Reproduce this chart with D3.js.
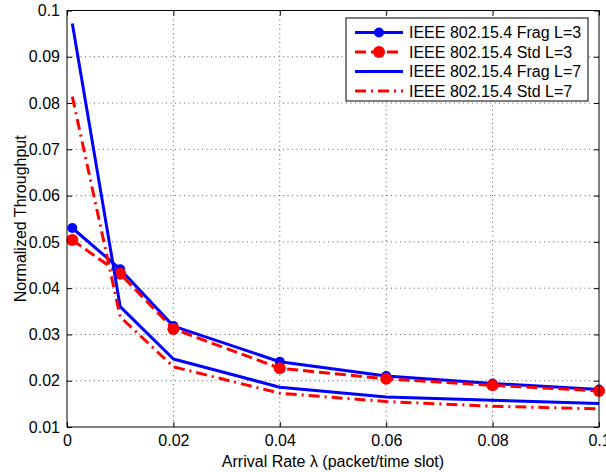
<!DOCTYPE html>
<html>
<head>
<meta charset="utf-8">
<script src="https://cdn.jsdelivr.net/npm/d3@7"></script>
<style>
  html, body { margin: 0; padding: 0; background: #fff; }
  svg { display: block; font-family: "Liberation Sans", Arial, sans-serif; }
</style>
</head>
<body>
<svg id="chart" width="606" height="472"></svg>
<script>
// Throughput normalizado vs taxa de chegada (4 séries, estilo MATLAB)

const ARRIVAL_RATES = [0.001, 0.01, 0.02, 0.04, 0.06, 0.08, 0.1];

const FRAG_L3 = [0.0530, 0.0441, 0.0318, 0.0241, 0.0210, 0.0194, 0.0181];
const STD_L3  = [0.0504, 0.0431, 0.0312, 0.0227, 0.0204, 0.0190, 0.0178];
const FRAG_L7 = [0.0972, 0.0360, 0.0247, 0.0186, 0.0165, 0.0158, 0.0151];
const STD_L7  = [0.0814, 0.0338, 0.0230, 0.0173, 0.0155, 0.0145, 0.0139];

const X_TICKS = [0, 0.02, 0.04, 0.06, 0.08, 0.1];
const Y_TICKS = [0.01, 0.02, 0.03, 0.04, 0.05, 0.06, 0.07, 0.08, 0.09, 0.1];

const SERIES = [
  { name: "IEEE 802.15.4 Frag L=3", values: FRAG_L3, color: "#0000ff", dash: null,          marker: 5 },
  { name: "IEEE 802.15.4 Std L=3",  values: STD_L3,  color: "#ff0000", dash: "11,5",        marker: 6 },
  { name: "IEEE 802.15.4 Frag L=7", values: FRAG_L7, color: "#0000ff", dash: null,          marker: 0 },
  { name: "IEEE 802.15.4 Std L=7",  values: STD_L7,  color: "#ff0000", dash: "11,5,2,5",    marker: 0 },
];

const margin = { top: 10.5, right: 7, bottom: 45, left: 67 };
const totalW = 606, totalH = 472;
const W = totalW - margin.left - margin.right;
const H = totalH - margin.top - margin.bottom;

const svg = d3.select("#chart");
const g = svg.append("g").attr("transform", `translate(${margin.left},${margin.top})`);

const x = d3.scaleLinear().domain([0, 0.1]).range([0, W]);
const y = d3.scaleLinear().domain([0.01, 0.1]).range([H, 0]);

// grade pontilhada
g.append("g").selectAll("line").data(X_TICKS.slice(1, -1)).join("line")
  .attr("x1", (d) => x(d)).attr("x2", (d) => x(d)).attr("y1", 0).attr("y2", H)
  .attr("stroke", "#333").attr("stroke-width", 0.8).attr("stroke-dasharray", "1,3.5");
g.append("g").selectAll("line").data(Y_TICKS.slice(1, -1)).join("line")
  .attr("x1", 0).attr("x2", W).attr("y1", (d) => y(d)).attr("y2", (d) => y(d))
  .attr("stroke", "#333").attr("stroke-width", 0.8).attr("stroke-dasharray", "1,3.5");

// eixos com ticks para dentro nos quatro lados
const fmt = (v) => String(+v.toFixed(3));
const axB = g.append("g").attr("transform", `translate(0,${H})`)
  .call(d3.axisBottom(x).tickValues(X_TICKS).tickSize(-5).tickPadding(8).tickFormat(fmt));
const axL = g.append("g")
  .call(d3.axisLeft(y).tickValues(Y_TICKS).tickSize(-5).tickPadding(7).tickFormat(fmt));
const axT = g.append("g")
  .call(d3.axisTop(x).tickValues(X_TICKS).tickSize(-5).tickFormat(""));
const axR = g.append("g").attr("transform", `translate(${W},0)`)
  .call(d3.axisRight(y).tickValues(Y_TICKS).tickSize(-5).tickFormat(""));
[axB, axL, axT, axR].forEach((a) => {
  a.selectAll(".domain").remove();
  a.selectAll("line").attr("stroke", "#000");
  a.selectAll("text").style("font-size", "16px").style("fill", "#000");
});

// séries
const line = d3.line().x((d, i) => x(ARRIVAL_RATES[i])).y((d) => y(d));
SERIES.forEach((s) => {
  g.append("path").datum(s.values)
    .attr("fill", "none").attr("stroke", s.color).attr("stroke-width", 3)
    .attr("stroke-dasharray", s.dash).attr("stroke-linejoin", "round")
    .attr("d", line);
  if (s.marker) {
    g.selectAll(null).data(s.values).enter().append("circle")
      .attr("cx", (d, i) => x(ARRIVAL_RATES[i])).attr("cy", (d) => y(d))
      .attr("r", s.marker).attr("fill", s.color);
  }
});

// moldura
g.append("rect").attr("width", W).attr("height", H)
  .attr("fill", "none").attr("stroke", "#000").attr("stroke-width", 1);

// rótulos dos eixos
svg.append("text")
  .attr("x", margin.left + W / 2).attr("y", 467)
  .attr("text-anchor", "middle").style("font-size", "16px")
  .text("Arrival Rate λ (packet/time slot)");
svg.append("text")
  .attr("transform", `translate(20,${margin.top + H / 2}) rotate(-90)`)
  .attr("text-anchor", "middle").attr("dy", "0.35em").style("font-size", "16px")
  .text("Normalized Throughput");

// legenda
const leg = svg.append("g").attr("transform", "translate(346,18)");
leg.append("rect").attr("width", 242).attr("height", 83)
  .attr("fill", "#fff").attr("stroke", "#000").attr("stroke-width", 1);
SERIES.forEach((s, i) => {
  const ly = 14.5 + i * 19.5;
  leg.append("line").attr("x1", 9).attr("x2", 57).attr("y1", ly).attr("y2", ly)
    .attr("stroke", s.color).attr("stroke-width", 3).attr("stroke-dasharray", s.dash);
  if (s.marker) leg.append("circle").attr("cx", 33).attr("cy", ly).attr("r", s.marker).attr("fill", s.color);
  leg.append("text").attr("x", 63).attr("y", ly).attr("dy", "0.36em")
    .style("font-size", "16px").text(s.name);
});
</script>
</body>
</html>
